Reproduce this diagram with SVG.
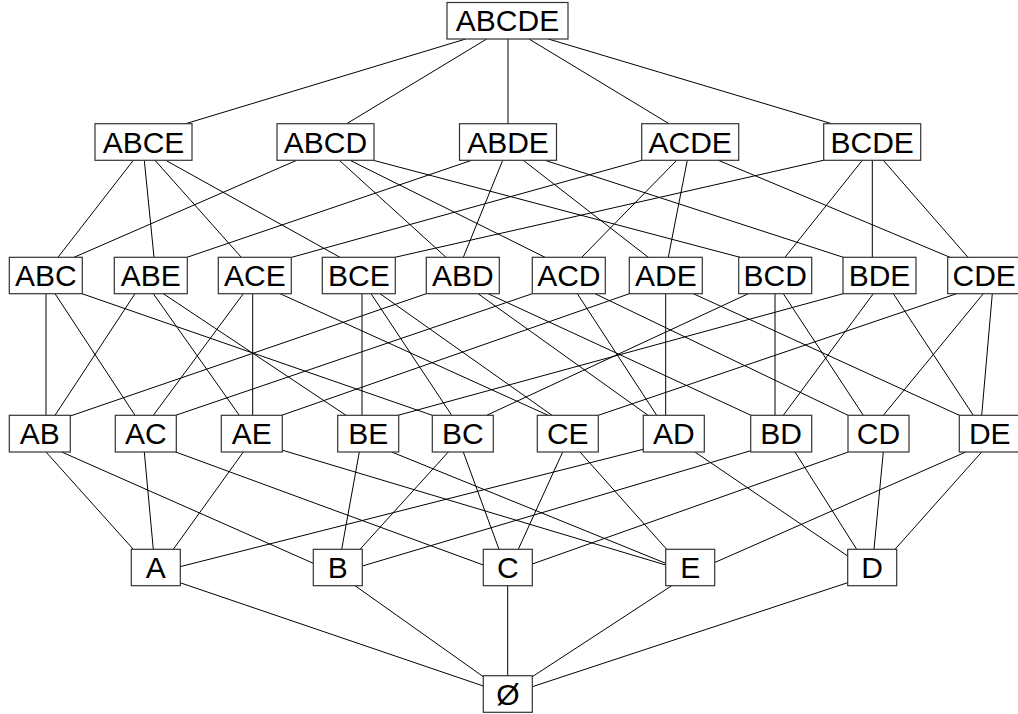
<svg xmlns="http://www.w3.org/2000/svg" width="1018" height="714" viewBox="0 0 1018 714">
<style>
.n rect{fill:#fff;stroke:#333;stroke-width:1.2}
.n text{font-family:"Liberation Sans",Arial,sans-serif;font-size:30px;text-anchor:middle;fill:#000}
#edges line{stroke:#000;stroke-width:1}
</style>
<rect x="0" y="0" width="1018" height="714" fill="#fff"/>
<g id="edges">
<line x1="465.7" y1="39" x2="185.7" y2="123.7"/>
<line x1="486.7" y1="39" x2="346.7" y2="123.7"/>
<line x1="508" y1="39" x2="508" y2="123.7"/>
<line x1="529" y1="39" x2="669" y2="123.7"/>
<line x1="548.3" y1="39" x2="831.7" y2="123.7"/>

<line x1="133.3" y1="160.3" x2="58" y2="257.3"/>
<line x1="144.3" y1="160.3" x2="154" y2="257.3"/>
<line x1="155" y1="160.3" x2="241.3" y2="257.3"/>
<line x1="165.7" y1="160.3" x2="340" y2="257.3"/>
<line x1="296.7" y1="160.3" x2="74" y2="257.3"/>
<line x1="339.3" y1="160.3" x2="446" y2="257.3"/>
<line x1="350" y1="160.3" x2="545" y2="257.3"/>
<line x1="373.3" y1="160.3" x2="740" y2="257.3"/>
<line x1="471.7" y1="160.3" x2="187" y2="257.3"/>
<line x1="502.7" y1="160.3" x2="463.3" y2="257.3"/>
<line x1="523.3" y1="160.3" x2="648.3" y2="257.3"/>
<line x1="545" y1="160.3" x2="843.3" y2="257.3"/>
<line x1="641.7" y1="160.3" x2="291.7" y2="257.3"/>
<line x1="676.7" y1="160.3" x2="581.7" y2="257.3"/>
<line x1="687.3" y1="160.3" x2="668.3" y2="257.3"/>
<line x1="718.3" y1="160.3" x2="950" y2="257.3"/>
<line x1="823.3" y1="160.3" x2="395" y2="257.3"/>
<line x1="862.3" y1="160.3" x2="785" y2="257.3"/>
<line x1="872.3" y1="160.3" x2="872.3" y2="257.3"/>
<line x1="883.3" y1="160.3" x2="968" y2="257.3"/>

<line x1="46" y1="293.7" x2="46" y2="415.3"/>
<line x1="55" y1="293.7" x2="135" y2="415.3"/>
<line x1="82" y1="293.7" x2="432.3" y2="415.3"/>
<line x1="135" y1="293.7" x2="55" y2="415.3"/>
<line x1="153.3" y1="293.7" x2="239.3" y2="415.3"/>
<line x1="163.3" y1="293.7" x2="346" y2="415.3"/>
<line x1="243.3" y1="293.7" x2="153.3" y2="415.3"/>
<line x1="252.7" y1="293.7" x2="252.7" y2="415.3"/>
<line x1="280" y1="293.7" x2="548" y2="415.3"/>
<line x1="362" y1="293.7" x2="362" y2="415.3"/>
<line x1="371" y1="293.7" x2="451.7" y2="415.3"/>
<line x1="380" y1="293.7" x2="552" y2="415.3"/>
<line x1="426.3" y1="293.7" x2="70.3" y2="416"/>
<line x1="478" y1="293.7" x2="648" y2="415.3"/>
<line x1="488" y1="293.7" x2="751" y2="415.3"/>
<line x1="532.3" y1="293.7" x2="175.7" y2="415.3"/>
<line x1="577.3" y1="293.7" x2="656.7" y2="415.3"/>
<line x1="595" y1="293.7" x2="848" y2="415.3"/>
<line x1="629.3" y1="293.7" x2="281.7" y2="415.3"/>
<line x1="665.7" y1="293.7" x2="665.7" y2="415.3"/>
<line x1="693.3" y1="293.7" x2="959.3" y2="415.3"/>
<line x1="748.3" y1="293.7" x2="486.7" y2="415.3"/>
<line x1="775" y1="293.7" x2="775" y2="415.3"/>
<line x1="783.3" y1="293.7" x2="863.3" y2="415.3"/>
<line x1="843" y1="293.7" x2="398" y2="415.3"/>
<line x1="873.3" y1="293.7" x2="783.3" y2="415.3"/>
<line x1="893.3" y1="293.7" x2="973.3" y2="415.3"/>
<line x1="956.7" y1="293.7" x2="598.3" y2="415.3"/>
<line x1="983.3" y1="293.7" x2="883.3" y2="415.3"/>
<line x1="992.3" y1="293.7" x2="981.7" y2="415.3"/>

<line x1="46" y1="452" x2="133.3" y2="549.3"/>
<line x1="61.7" y1="452" x2="313.3" y2="563.3"/>
<line x1="144.3" y1="452" x2="153.3" y2="549.3"/>
<line x1="175.7" y1="452" x2="483.3" y2="565"/>
<line x1="243.3" y1="452" x2="173.3" y2="549.3"/>
<line x1="281.7" y1="450" x2="665.7" y2="565"/>
<line x1="359.3" y1="452" x2="341.7" y2="549.3"/>
<line x1="391.7" y1="452" x2="665.7" y2="563.3"/>
<line x1="448.3" y1="452" x2="360" y2="549.3"/>
<line x1="463.3" y1="452" x2="499" y2="549.3"/>
<line x1="562.7" y1="452" x2="518.3" y2="549.3"/>
<line x1="580" y1="452" x2="666.7" y2="549.3"/>
<line x1="643.3" y1="449.3" x2="180" y2="566.7"/>
<line x1="695" y1="452" x2="847.7" y2="556"/>
<line x1="750.7" y1="450.7" x2="362.3" y2="566"/>
<line x1="795" y1="452" x2="856.7" y2="549.3"/>
<line x1="848.3" y1="452" x2="532.3" y2="564"/>
<line x1="883.3" y1="452" x2="874" y2="549.3"/>
<line x1="965.7" y1="452" x2="714.3" y2="562.7"/>
<line x1="981.7" y1="452" x2="895" y2="549.3"/>

<line x1="180" y1="582.7" x2="483.3" y2="686"/>
<line x1="355" y1="585.7" x2="483.3" y2="676.7"/>
<line x1="507.7" y1="585.7" x2="507.7" y2="675.7"/>
<line x1="671.7" y1="585.7" x2="532.3" y2="676.7"/>
<line x1="847.7" y1="582.7" x2="532.3" y2="686.7"/>
</g>

<g id="ABCDE" class="n"><rect x="447" y="2.5" width="121" height="36.5"/><text x="507.5" y="31.2">ABCDE</text></g>

<g id="ABCE" class="n"><rect x="95" y="123.7" width="97" height="36.6"/><text x="143.5" y="152.7">ABCE</text></g>
<g id="ABCD" class="n"><rect x="277" y="123.7" width="97" height="36.6"/><text x="325.5" y="152.7">ABCD</text></g>
<g id="ABDE" class="n"><rect x="459.5" y="123.7" width="97" height="36.6"/><text x="508" y="152.7">ABDE</text></g>
<g id="ACDE" class="n"><rect x="641.7" y="123.7" width="97" height="36.6"/><text x="690.2" y="152.7">ACDE</text></g>
<g id="BCDE" class="n"><rect x="823.7" y="123.7" width="97" height="36.6"/><text x="872.2" y="152.7">BCDE</text></g>

<g id="ABC" class="n"><rect x="9.3" y="257.3" width="73" height="36.4"/><text x="45.8" y="286.2">ABC</text></g>
<g id="ABE" class="n"><rect x="114.3" y="257.3" width="73" height="36.4"/><text x="150.8" y="286.2">ABE</text></g>
<g id="ACE" class="n"><rect x="218.3" y="257.3" width="73" height="36.4"/><text x="254.8" y="286.2">ACE</text></g>
<g id="BCE" class="n"><rect x="322.3" y="257.3" width="73" height="36.4"/><text x="358.8" y="286.2">BCE</text></g>
<g id="ABD" class="n"><rect x="426.3" y="257.3" width="73" height="36.4"/><text x="462.8" y="286.2">ABD</text></g>
<g id="ACD" class="n"><rect x="532.3" y="257.3" width="73" height="36.4"/><text x="568.8" y="286.2">ACD</text></g>
<g id="ADE" class="n"><rect x="629.3" y="257.3" width="73" height="36.4"/><text x="665.8" y="286.2">ADE</text></g>
<g id="BCD" class="n"><rect x="738.7" y="257.3" width="73" height="36.4"/><text x="775.2" y="286.2">BCD</text></g>
<g id="BDE" class="n"><rect x="843" y="257.3" width="73" height="36.4"/><text x="879.5" y="286.2">BDE</text></g>
<g id="CDE" class="n"><rect x="947.7" y="257.3" width="73" height="36.4"/><text x="984.2" y="286.2">CDE</text></g>

<g id="AB" class="n"><rect x="9.3" y="415.3" width="61" height="36.7"/><text x="39.8" y="444.4">AB</text></g>
<g id="AC" class="n"><rect x="115.3" y="415.3" width="61" height="36.7"/><text x="145.8" y="444.4">AC</text></g>
<g id="AE" class="n"><rect x="221.3" y="415.3" width="61" height="36.7"/><text x="251.8" y="444.4">AE</text></g>
<g id="BE" class="n"><rect x="337.7" y="415.3" width="61" height="36.7"/><text x="368.2" y="444.4">BE</text></g>
<g id="BC" class="n"><rect x="432.3" y="415.3" width="61" height="36.7"/><text x="462.8" y="444.4">BC</text></g>
<g id="CE" class="n"><rect x="537.3" y="415.3" width="61" height="36.7"/><text x="567.8" y="444.4">CE</text></g>
<g id="AD" class="n"><rect x="643.3" y="415.3" width="61" height="36.7"/><text x="673.8" y="444.4">AD</text></g>
<g id="BD" class="n"><rect x="750.7" y="415.3" width="61" height="36.7"/><text x="781.2" y="444.4">BD</text></g>
<g id="CD" class="n"><rect x="848" y="415.3" width="61" height="36.7"/><text x="878.5" y="444.4">CD</text></g>
<g id="DE" class="n"><rect x="959.3" y="415.3" width="61" height="36.7"/><text x="989.8" y="444.4">DE</text></g>

<g id="A" class="n"><rect x="131.3" y="549.3" width="49" height="36.4"/><text x="155.8" y="578.2">A</text></g>
<g id="B" class="n"><rect x="313.3" y="549.3" width="49" height="36.4"/><text x="337.8" y="578.2">B</text></g>
<g id="C" class="n"><rect x="483.3" y="549.3" width="49" height="36.4"/><text x="507.8" y="578.2">C</text></g>
<g id="E" class="n"><rect x="665.7" y="549.3" width="49" height="36.4"/><text x="690.2" y="578.2">E</text></g>
<g id="D" class="n"><rect x="847.7" y="549.3" width="49" height="36.4"/><text x="872.2" y="578.2">D</text></g>

<g id="EMPTY" class="n"><rect x="483.3" y="675.7" width="49" height="36.6"/><text x="507.8" y="704.7">Ø</text></g>
</svg>
